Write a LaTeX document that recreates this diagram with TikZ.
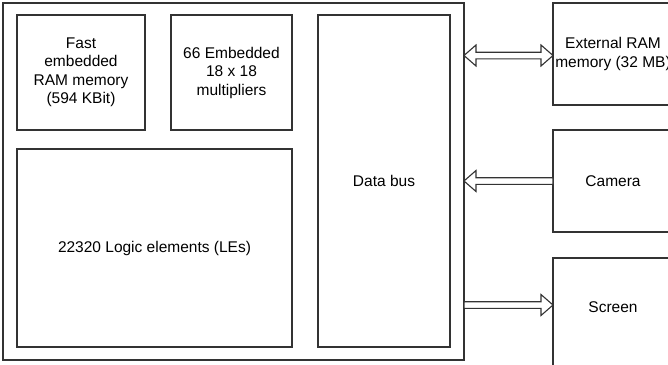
\documentclass[tikz,border=0pt]{standalone}
\usepackage{fontspec}
\setmainfont{Liberation Sans}
\usetikzlibrary{calc}

\begin{document}
\begin{tikzpicture}[x=1pt, y=-1pt, font=\fontsize{15.5}{18.5}\selectfont,
    box/.style={draw=black!80, line width=1.1pt, rectangle, inner sep=0pt, outer sep=0pt, align=center},
    fatarrow/.style={draw=black!80, line width=1.1pt, fill=white, line join=miter}]
    \useasboundingbox (0,0) rectangle (668,364);

    \node[box, minimum width=461pt, minimum height=357pt] at (233.5,181.5) (chip)   {};
    \node[box, minimum width=128pt, minimum height=115pt] at (81,72.5)     (ram)    {Fast\\embedded\\RAM memory\\(594 KBit)};
    \node[box, minimum width=121pt, minimum height=115pt] at (231.5,72.5)  (mult)   {66 Embedded\\18 x 18\\multipliers};
    \node[box, minimum width=132pt, minimum height=332pt] at (384,181)     (bus)    {Data bus};
    \node[box, minimum width=275pt, minimum height=198pt] at (154.5,248)   (logic)  {22320 Logic elements (LEs)};
    \node[box, minimum width=120pt, minimum height=102pt] at (613,54)      (extram) {External RAM\\memory (32 MB)};
    \node[box, minimum width=120pt, minimum height=102pt] at (613,181)     (camera) {Camera};
    \node[box, minimum width=120pt, minimum height=108pt] at (613,312)     (screen) {};
    \node[yshift=5pt] at (screen.center) (screentext) {Screen};

    \coordinate (memtip)  at ([yshift=-1.5pt]chip.east |- extram.west);
    \coordinate (memtail) at ([yshift=-1.5pt]extram.west);
    \coordinate (camtip)  at (chip.east |- camera.west);
    \coordinate (camtail) at (camera.west);
    \coordinate (scrtip)  at ([yshift=7pt]screen.west);
    \coordinate (scrtail) at (chip.east |- scrtip);

    % chip <-> external memory
    \draw[fatarrow] (memtip) -- ++(12,-10.5) -- ++(0,7.2) -- ($(memtail)+(-12,-3.3)$) -- ++(0,-7.2)
        -- (memtail) -- ++(-12,10.5) -- ++(0,-7.2) -- ($(memtip)+(12,3.3)$) -- ++(0,7.2) -- cycle;
    % camera -> chip
    \draw[fatarrow] (camtip) -- ++(12,-10.5) -- ++(0,7.2) -- ($(camtail)+(0,-3.3)$) -- ++(0,6.6)
        -- ($(camtip)+(12,3.3)$) -- ++(0,7.2) -- cycle;
    % chip -> screen
    \draw[fatarrow] (scrtip) -- ++(-12,-10.5) -- ++(0,7.2) -- ($(scrtail)+(0,-3.3)$) -- ++(0,6.6)
        -- ($(scrtip)+(-12,3.3)$) -- ++(0,7.2) -- cycle;
\end{tikzpicture}
\end{document}
